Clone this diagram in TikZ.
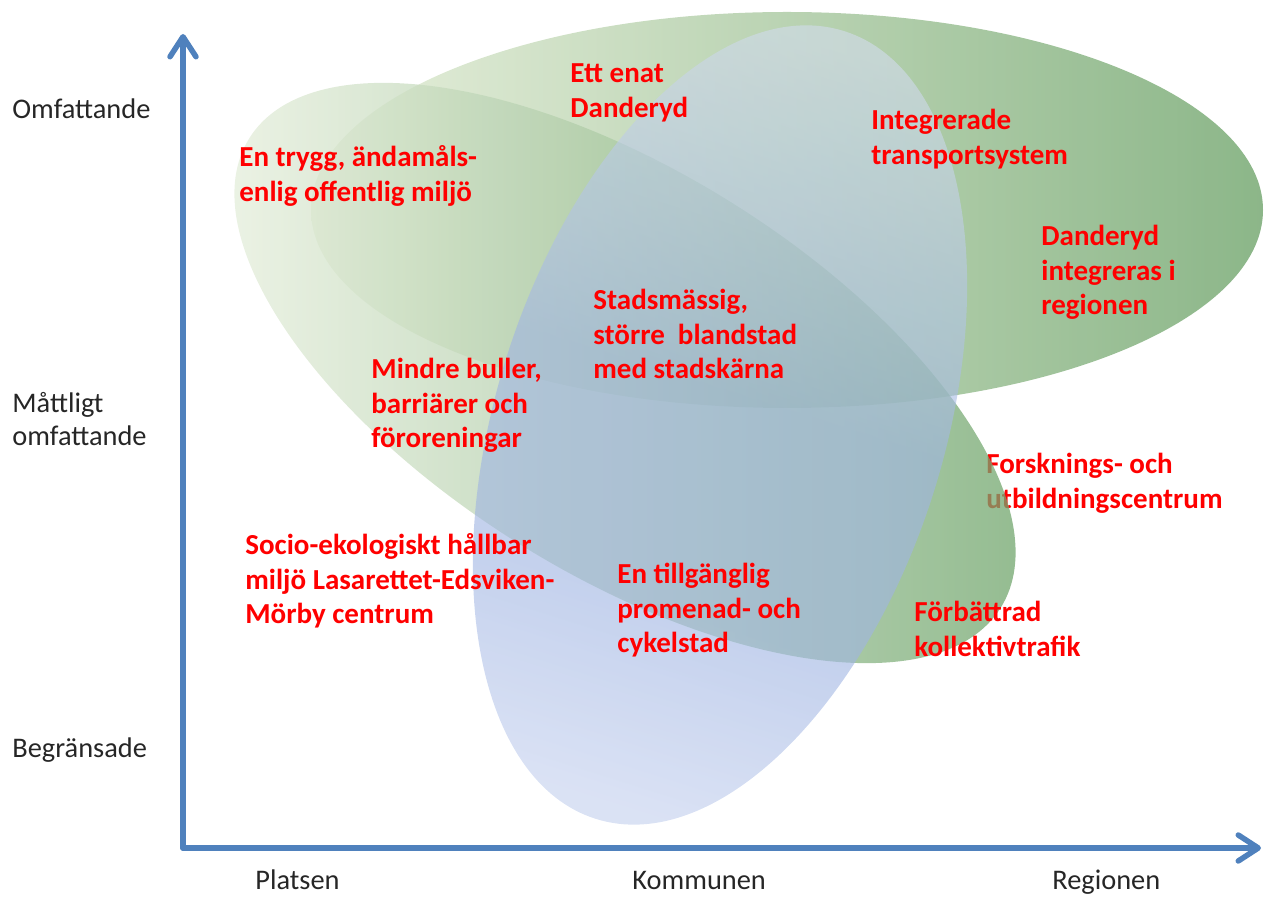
\documentclass[tikz,border=0pt]{standalone}
\usepackage{fontspec}
\setmainfont{Carlito}
\usetikzlibrary{arrows.meta}
\definecolor{axisblue}{HTML}{4F81BD}
\definecolor{labelgray}{HTML}{262626}
\definecolor{Bl}{HTML}{E2ECD4}
\definecolor{Bm}{HTML}{BCD2A0}
\definecolor{Br}{HTML}{6FA46B}
\definecolor{Al}{HTML}{EAF1E0}
\definecolor{Am}{HTML}{C2D6A6}
\definecolor{Ar}{HTML}{6BA267}
\definecolor{Cb}{HTML}{C4D0EE}
\definecolor{Cm}{HTML}{A0B5E2}
\definecolor{Ct}{HTML}{D2DCEC}
\pgfdeclareverticalshading{bluegrad}{100bp}{color(0bp)=(Cb); color(25bp)=(Cb); color(38bp)=(Cm); color(52bp)=(Cm); color(75bp)=(Ct); color(100bp)=(Ct)}
\begin{document}
\begin{tikzpicture}[x=0.5pt,y=-0.5pt,
  axis/.style={draw=axisblue, line width=2.75pt, line cap=round, line join=round,
    -{Straight Barb[length=10pt,width=13pt,line cap=round,line join=round]}},
  goal/.style={font=\bfseries\fontsize{14.5}{17.15}\selectfont, text=red, align=left, anchor=base west, inner sep=0pt},
  scalelbl/.style={font=\fontsize{14.2}{16.8}\selectfont, text=labelgray, align=left, anchor=base west, inner sep=0pt}]
\useasboundingbox (0,0) rectangle (1264,897);

% horizontal ellipse (Regionen)
\shade[left color=Bl, middle color=Bm, right color=Br, fill opacity=0.8]
  (787,210) ellipse[x radius=476, y radius=198];

% text partly under the diagonal ellipse (last-line baselines)
\node[goal] (forsk) at (986,508.3) {Forsknings- och\\utbildningscentrum};

% diagonal ellipse (Platsen)
\shade[left color=Al, middle color=Am, right color=Ar, fill opacity=0.75,
  rotate around={-32:(625,373)}]
  (625,373) ellipse[x radius=443, y radius=201];

% blue ellipse (Kommunen)
\shade[shading=bluegrad, shading angle=-17.5, fill opacity=0.62,
  rotate around={72.5:(720,425)}]
  (720,425) ellipse[x radius=413, y radius=224];

% axes
\coordinate (O) at (183,848);
\coordinate (ytop) at (183,34);
\coordinate (xend) at (1261,848);
\draw[axis] (O) -- (ytop);
\draw[axis] (O) -- (xend);

% goal texts (positioned at the baseline of their last line)
\node[goal] (enat) at (570,117.3) {Ett enat\\Danderyd};
\node[goal] (integ) at (871,164.3) {Integrerade\\transportsystem};
\node[goal] (dreg) at (1041,314.6) {Danderyd\\integreras i\\regionen};
\node[goal] (trygg) at (239,201.3) {En trygg, ändamåls-\\enlig offentlig miljö};
\node[goal] (stad) at (593,378.6) {Stadsmässig,\\större\ \ blandstad\\med stadskärna};
\node[goal] (buller) at (371,447.6) {Mindre buller,\\barriärer och\\föroreningar};
\node[goal] (socio) at (245,623.6) {Socio-ekologiskt hållbar\\miljö Lasarettet-Edsviken-\\Mörby centrum};
\node[goal] (tillg) at (617,652.6) {En tillgänglig\\promenad- och\\cykelstad};
\node[goal] (forb) at (914,656.3) {Förbättrad\\kollektivtrafik};

% scale labels
\node[scalelbl] (omf) at (12,119) {Omfattande};
\node[scalelbl] (mat) at (12,446) {Måttligt\\omfattande};
\node[scalelbl] (beg) at (12,757) {Begränsade};
\node[scalelbl] (plats) at (255,889) {Platsen};
\node[scalelbl] (komm) at (632,889) {Kommunen};
\node[scalelbl] (reg) at (1052,889) {Regionen};
\end{tikzpicture}
\end{document}
